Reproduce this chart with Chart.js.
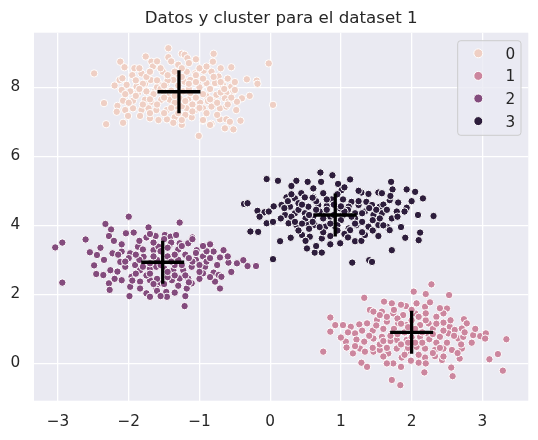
<!DOCTYPE html>
<html>
<head>
<meta charset="utf-8">
<script src="https://cdn.jsdelivr.net/npm/chart.js@4/dist/chart.umd.min.js"></script>
<style>
html,body{margin:0;padding:0;background:#ffffff;}
#wrap{width:538px;height:440px;}
</style>
</head>
<body>
<div id="wrap"><canvas id="c" width="538" height="440"></canvas></div>
<script>
// ---------------- data ----------------
const titleText = 'Datos y cluster para el dataset 1';
const clusterLabels = ['0', '1', '2', '3'];
const xTicks = [-3, -2, -1, 0, 1, 2, 3];
const yTicks = [0, 2, 4, 6, 8];

const cluster0 = [
[-2.49,8.40],[-1.44,9.13],[-1.76,8.89],[-1.44,8.87],[-1.25,8.97],[-1.21,8.94],[-1.17,8.84],[-1.05,8.81],[-0.80,8.97],[-0.81,8.74],
[-2.12,8.74],[-2.06,8.58],[-1.92,8.55],[-1.68,8.74],[-1.66,8.60],[-0.55,8.58],[-0.02,8.69],[-1.82,8.40],[-1.70,8.45],[-1.52,8.45],
[-1.45,8.31],[-1.32,8.40],[-1.18,8.45],[-1.06,8.40],[-0.94,8.48],[-0.83,8.45],[-0.73,8.31],[-0.33,8.23],[-0.19,8.19],[-0.18,8.10],
[-2.13,8.21],[-2.09,8.26],[-2.03,8.07],[-1.89,8.02],[-1.77,8.10],[-1.69,8.21],[-1.58,8.12],[-1.47,8.12],[-1.37,8.21],[-1.21,8.16],
[-1.13,8.21],[-1.02,8.10],[-0.90,8.12],[-0.78,8.12],[-0.67,8.07],[-0.55,8.02],[-0.52,7.88],[-2.10,7.92],[-1.98,7.88],[-1.87,7.83],
[-1.75,7.88],[-1.63,7.88],[-1.51,7.88],[-1.42,7.78],[-1.23,7.88],[-1.13,7.83],[-0.99,7.92],[-0.90,7.74],[-0.76,7.78],[-0.62,7.83],
[-0.50,7.92],[-0.29,7.75],[-0.40,7.68],[-2.35,7.54],[-2.16,7.46],[-2.08,7.61],[-1.94,7.61],[-1.77,7.64],[-1.68,7.58],[-1.54,7.64],
[-1.42,7.64],[-1.28,7.68],[-1.16,7.64],[-0.99,7.55],[-0.88,7.60],[-0.78,7.58],[-0.64,7.68],[-0.59,7.58],[-0.47,7.58],[0.04,7.49],
[-2.17,7.29],[-2.05,7.34],[-1.94,7.39],[-1.82,7.34],[-1.72,7.39],[-1.61,7.34],[-1.46,7.34],[-1.32,7.44],[-1.18,7.39],[-1.06,7.34],
[-0.95,7.39],[-0.83,7.44],[-0.71,7.39],[-0.62,7.44],[-0.48,7.34],[-2.01,7.17],[-2.08,6.97],[-1.84,7.17],[-1.70,7.10],[-1.58,7.05],
[-1.46,7.07],[-1.35,7.13],[-1.25,7.20],[-1.11,7.13],[-0.95,7.03],[-0.83,6.94],[-0.71,7.07],[-0.62,7.07],[-0.57,7.00],[-0.42,7.03],
[-2.32,6.93],[-1.37,6.97],[-1.25,6.91],[-0.85,6.91],[-0.64,6.81],[-0.52,6.78],[-1.01,6.59],
[-1.60,8.00],[-1.40,7.90],[-1.30,8.05],[-1.15,7.95],[-1.00,8.00],[-0.85,7.95],[-1.50,7.70],[-1.35,7.55],[-1.05,7.70],[-0.70,7.85],
[-1.90,7.75],[-1.75,8.30],[-1.25,8.30],[-0.95,8.25],[-1.55,8.55],[-1.30,8.65],[-1.60,7.50],[-1.10,7.50],[-0.90,7.25],[-1.70,7.25],
[-1.20,7.20],[-0.60,8.25],[-1.85,8.55],[-0.70,8.55],[-2.00,7.55],[-1.45,8.20],[-1.00,8.55],[-1.25,7.45],[-0.75,7.20],[-1.80,8.10],
[-1.55,7.95],[-1.35,7.75],[-1.15,8.10],[-0.95,7.80],[-1.45,8.35],[-1.65,7.80],[-1.20,7.60],[-0.80,8.30],[-1.85,7.95],[-1.05,8.35],
[-1.40,7.40],[-0.75,7.55],[-1.70,8.45],[-1.10,7.30],[-1.50,7.25],[-0.65,7.95],[-1.95,8.35],[-0.85,7.65],[-1.25,8.55],[-1.60,8.20],
[-1.35,8.45],[-1.00,7.40],[-0.55,7.70],[-1.80,7.50],[-1.15,8.70],[-0.90,8.60],[-1.50,8.05],[-1.05,8.15],[-1.70,7.65],[-0.70,8.15],
[-1.40,8.75],[-2.05,7.80],[-1.25,7.05],[-0.95,7.05],[-1.60,8.75],[-0.50,8.15],[-1.90,8.20],[-1.30,7.25],[-0.60,7.50],[-2.20,8.05]
];

const cluster1 = [
[2.28,2.29],[2.03,2.08],[2.20,2.01],[2.53,1.98],[1.33,1.90],[1.61,1.79],[1.72,1.74],[1.92,1.66],[2.07,1.74],[2.19,1.64],
[2.26,1.77],[2.50,1.59],[1.41,1.55],[1.46,1.50],[1.58,1.50],[1.74,1.45],[1.88,1.40],[2.05,1.45],[2.19,1.40],[2.35,1.35],
[2.45,1.45],[2.74,1.28],[2.78,1.16],[0.85,1.33],[0.92,1.11],[0.85,0.92],[1.03,1.11],[1.14,1.06],[1.26,1.13],[1.37,1.16],
[1.51,1.26],[1.65,1.21],[1.81,1.16],[1.93,1.11],[2.12,1.11],[2.24,1.16],[2.45,1.18],[2.54,1.06],[2.61,0.97],[2.71,1.01],
[1.07,0.63],[1.08,0.46],[1.20,0.87],[1.22,0.69],[1.33,0.63],[1.46,0.72],[1.58,0.77],[1.72,0.87],[1.79,0.68],[1.93,0.68],
[2.12,0.77],[2.24,0.82],[2.40,0.77],[2.52,0.87],[2.66,0.72],[2.73,0.77],[2.87,0.82],[2.97,0.79],[3.05,0.87],[3.04,0.72],
[3.34,0.70],[1.17,0.29],[1.27,0.43],[1.34,0.34],[1.46,0.34],[1.55,0.39],[1.67,0.29],[1.79,0.43],[1.93,0.34],[2.07,0.48],
[2.19,0.43],[2.33,0.39],[2.45,0.43],[2.57,0.39],[2.71,0.43],[1.29,0.02],[1.37,-0.10],[1.74,0.00],[1.86,0.17],[1.99,0.08],
[2.10,0.02],[2.19,0.17],[2.33,0.21],[2.43,0.10],[2.68,0.14],[3.10,0.12],[3.22,0.27],[0.75,0.34],[1.72,-0.48],[1.84,-0.63],
[2.18,-0.26],[2.58,-0.37],[2.56,-0.12],[3.29,-0.21],
[1.90,0.90],[2.05,1.00],[1.75,1.00],[2.15,0.60],[1.85,0.55],[1.60,1.00],[2.30,1.00],[2.00,1.25],[1.70,0.65],[2.35,0.60],
[1.55,0.55],[2.00,0.75],[2.45,0.95],[1.65,1.35],[2.20,1.25],[1.95,0.45],[1.45,0.95],[2.50,0.60],[1.80,1.30],[2.10,0.25],[1.60,0.20],
[1.80,0.85],[2.15,0.90],[1.95,1.05],[2.25,0.70],[1.70,0.80],[2.05,0.60],[1.85,1.15],[2.35,1.15],[1.60,0.65],[2.40,0.45],
[1.50,1.10],[2.60,0.80],[1.90,0.25],[2.20,1.45],[1.40,0.80],[2.70,0.55],[1.65,0.45],[2.30,0.30],[1.75,1.55],[2.55,1.25],
[1.30,0.95],[2.85,0.60],[1.55,1.40],[2.00,1.55],[1.20,0.50],[2.45,0.20],[1.85,-0.10],[2.90,1.00],[1.10,0.90],[2.10,1.35],
[1.65,0.00],[2.65,0.30],[1.95,0.60],[2.30,0.85],[1.45,0.45],[1.00,0.75],[2.40,1.60],[1.85,1.70],[2.75,0.90],[2.20,0.00]
];

const cluster2 = [
[-3.04,3.36],[-2.94,3.50],[-2.94,2.34],[-2.61,3.59],[-2.55,3.22],[-2.45,3.14],[-2.49,2.84],[-2.46,2.59],[-2.36,2.56],[-2.28,2.32],
[-2.27,2.13],[-2.26,2.70],[-2.33,4.04],[-2.25,3.88],[-2.28,3.69],[-2.21,3.55],[-2.04,3.77],[-1.93,3.79],[-2.00,4.25],[-1.72,3.94],
[-1.75,3.65],[-1.62,3.69],[-1.49,3.72],[-1.41,3.67],[-1.33,3.72],[-1.28,4.08],[-1.10,3.65],[-2.12,2.94],[-2.16,2.66],[-2.23,3.19],
[-2.10,3.24],[-1.98,3.19],[-1.87,3.38],[-1.79,3.09],[-1.65,3.28],[-1.58,3.38],[-1.42,3.43],[-1.28,3.48],[-1.16,3.48],[-1.04,3.28],
[-0.85,3.45],[-0.80,3.24],[-0.66,3.28],[-2.05,2.80],[-1.91,2.85],[-1.84,2.70],[-1.70,2.75],[-1.61,2.80],[-1.37,2.70],[-1.23,2.70],
[-1.11,2.80],[-0.99,2.66],[-0.92,2.80],[-0.71,3.07],[-0.59,2.92],[-0.47,2.90],[-0.38,2.99],[-0.32,2.82],[-0.20,2.82],[-2.10,2.41],
[-1.96,2.51],[-1.84,2.37],[-1.70,2.41],[-1.56,2.32],[-1.39,2.41],[-1.28,2.46],[-1.16,2.46],[-1.11,2.32],[-0.95,2.61],[-0.80,2.63],
[-0.73,2.56],[-0.69,2.51],[-0.78,2.37],[-0.71,2.17],[-1.98,2.22],[-1.84,2.17],[-1.75,2.03],[-1.61,2.17],[-1.47,2.07],[-1.35,2.05],
[-1.18,2.17],[-1.99,1.95],[-1.70,1.93],[-1.46,1.93],[-1.21,1.66],
[-1.60,3.00],[-1.45,3.10],[-1.30,3.00],[-1.20,3.15],[-1.70,2.90],[-1.50,2.75],[-1.35,2.85],[-1.05,3.00],[-0.95,3.10],[-1.85,3.00],
[-2.00,3.05],[-1.55,3.25],[-1.30,3.30],[-1.10,2.95],[-1.75,2.55],[-1.45,2.50],[-1.20,2.55],[-1.90,2.60],[-0.90,2.95],[-1.65,3.50],
[-1.00,2.45],[-2.15,3.15],[-1.40,3.50],[-0.85,3.05],[-1.50,2.30],
[-1.55,2.85],[-1.40,2.95],[-1.25,2.85],[-1.65,3.10],[-1.35,3.15],[-1.80,2.80],[-1.15,3.05],[-1.45,2.65],[-1.00,2.85],[-1.70,2.60],
[-1.25,3.40],[-1.90,3.15],[-1.60,2.45],[-1.05,3.20],[-1.35,2.55],[-2.05,2.95],[-0.90,3.25],[-1.80,3.30],[-1.15,2.35],[-1.50,3.60],
[-2.20,2.45],[-0.75,2.85],[-1.95,2.40],[-1.30,2.25],[-1.60,2.10],[-1.10,3.60],[-2.35,3.00],[-0.60,3.10],[-1.85,3.55],[-1.45,3.35],
[-1.00,2.65],[-0.85,2.50],[-2.10,3.45],[-1.70,3.75],[-1.20,1.95],[-0.55,2.65],[-2.40,3.35],[-1.55,1.95],[-0.95,3.40],[-1.65,2.30]
];

const cluster3 = [
[-0.05,5.34],[0.11,5.29],[-0.37,4.62],[-0.32,4.64],[-0.18,4.42],[-0.08,4.38],[-0.02,4.40],[-0.28,3.82],[-0.17,3.81],[-0.05,4.06],
[0.04,4.10],[0.04,3.02],[0.14,3.54],[0.29,3.64],[0.37,5.29],[0.53,5.26],[0.30,5.14],[0.71,5.53],[0.88,5.45],[0.72,5.26],
[0.96,5.20],[1.13,5.33],[1.01,5.02],[0.61,5.07],[0.44,4.93],[0.23,4.81],[0.35,4.78],[0.49,4.81],[0.61,4.83],[0.75,4.93],
[0.87,4.75],[1.03,4.75],[1.15,4.68],[1.29,4.95],[1.39,4.91],[1.53,4.95],[1.58,4.93],[1.71,5.26],[1.73,5.04],[1.93,5.04],
[2.05,4.97],[2.16,4.78],[0.16,4.59],[0.28,4.54],[0.40,4.64],[0.54,4.54],[0.68,4.59],[0.80,4.56],[0.99,4.49],[1.11,4.54],
[1.25,4.59],[1.36,4.68],[1.44,4.59],[1.55,4.54],[1.69,4.73],[1.81,4.66],[1.93,4.51],[1.79,4.40],[0.21,4.30],[0.35,4.35],
[0.49,4.35],[0.61,4.25],[0.73,4.35],[1.03,4.30],[1.20,4.35],[1.34,4.40],[1.46,4.30],[1.58,4.35],[1.72,4.20],[2.09,4.30],
[2.31,4.27],[0.26,4.06],[0.37,4.01],[0.52,4.06],[0.63,4.01],[0.78,3.96],[0.92,3.96],[1.11,3.91],[1.22,4.01],[1.39,3.96],
[1.53,4.01],[1.65,3.96],[1.69,3.86],[0.45,3.72],[0.56,3.67],[0.73,3.62],[0.85,3.69],[0.99,3.48],[1.13,3.86],[1.20,3.54],
[1.29,3.55],[1.34,3.72],[1.53,3.69],[1.91,3.64],[2.12,3.79],[2.10,3.57],[0.52,3.33],[0.63,3.21],[0.73,3.21],[1.72,3.28],
[1.16,2.92],[1.40,2.99],[1.44,2.94],
[0.70,4.40],[0.85,4.25],[1.00,4.15],[1.20,4.20],[0.60,4.10],[0.90,4.60],[1.10,4.45],[0.50,4.20],[0.75,3.80],[1.30,4.10],
[0.40,4.45],[1.05,3.75],[0.65,4.70],[1.45,4.15],[0.30,4.25],[0.95,4.00],[0.80,4.45],[1.25,4.70],[0.55,3.90],[1.60,4.60],
[0.45,4.05],[1.50,4.45],[0.20,4.50],
[0.90,4.30],[1.05,4.40],[0.75,4.20],[1.15,4.25],[0.65,4.45],[1.30,4.35],[0.85,4.05],[1.00,4.55],[0.55,4.30],[1.40,4.50],
[0.70,3.95],[1.20,4.05],[0.45,4.60],[1.55,4.20],[0.95,3.85],[0.35,4.10],[1.65,4.45],[0.60,4.80],[1.30,3.80],[0.25,4.70],
[1.80,4.25],[0.80,4.75],[1.10,3.65],[0.40,3.85],[1.70,4.85],[0.15,4.20],[1.45,3.85],[0.95,4.90],[0.50,3.55],[1.90,4.40],
[0.05,4.55],[1.25,5.00],[0.85,3.45],[1.60,4.00],[0.30,4.90],[2.00,4.70],[1.05,5.10],[0.65,3.40],[1.85,3.95],[-0.15,4.25]
];

const centroidX = [-1.29, 2.00, -1.52, 0.92];
const centroidY = [7.87, 0.90, 2.93, 4.30];

// ---------------- styling ----------------
const clusterColors = ['#efcfc4', '#cc869e', '#834b7d', '#2d1d3c'];
const FONT = 'DejaVu Sans';
const TEXT = '#262626';
const PLOT_BG = '#eaeaf2';

const fmt = v => (v < 0 ? '\u2212' + Math.abs(v) : String(v));
const clusters = [cluster0, cluster1, cluster2, cluster3];

const bgPlugin = {
  id: 'plotBg',
  beforeDraw(chart) {
    const {ctx, chartArea: a} = chart;
    ctx.save();
    ctx.fillStyle = PLOT_BG;
    ctx.fillRect(a.left, a.top, a.right - a.left, a.bottom - a.top);
    ctx.restore();
  }
};

const legendPlugin = {
  id: 'sbLegend',
  afterDraw(chart) {
    const {ctx, chartArea: a} = chart;
    const w = 63.3, h = 94.6;
    const x0 = a.right - 7.3 - w, y0 = a.top + 8;
    ctx.save();
    ctx.beginPath();
    ctx.roundRect(x0, y0, w, h, 3);
    ctx.fillStyle = 'rgba(234,234,242,0.8)';
    ctx.fill();
    ctx.strokeStyle = '#cccccc';
    ctx.lineWidth = 1;
    ctx.stroke();
    ctx.font = '15.3px "' + FONT + '"';
    ctx.textAlign = 'left';
    ctx.textBaseline = 'alphabetic';
    clusterLabels.forEach((lab, i) => {
      const cy = y0 + 12.6 + i * 22.6;
      ctx.beginPath();
      ctx.arc(x0 + 20.6, cy, 4.5, 0, Math.PI * 2);
      ctx.fillStyle = clusterColors[i];
      ctx.fill();
      ctx.strokeStyle = '#ffffff';
      ctx.lineWidth = 1;
      ctx.stroke();
      ctx.fillStyle = TEXT;
      ctx.fillText(lab, x0 + 47.8, cy + 5.5);
    });
    ctx.restore();
  }
};

const datasets = clusterLabels.map((lab, i) => ({
  label: lab,
  data: clusters[i].map(([x, y]) => ({x, y})),
  backgroundColor: clusterColors[i],
  borderColor: '#ffffff',
  borderWidth: 1,
  pointRadius: 3.7,
  pointHoverRadius: 3.7,
  order: 1
}));
datasets.push({
  label: 'centroides',
  data: centroidX.map((x, i) => ({x, y: centroidY[i]})),
  pointStyle: 'cross',
  pointRadius: 21.5,
  pointHoverRadius: 21.5,
  borderColor: '#000000',
  backgroundColor: '#000000',
  borderWidth: 3.3,
  order: 0
});

new Chart(document.getElementById('c'), {
  type: 'scatter',
  data: {datasets},
  options: {
    responsive: false,
    animation: false,
    events: [],
    layout: {autoPadding: false, padding: {left: 0, right: 9.7, top: 0, bottom: 0}},
    plugins: {
      legend: {display: false},
      tooltip: {enabled: false},
      title: {
        display: true,
        fullSize: false,
        text: titleText,
        color: TEXT,
        font: {family: FONT, size: 16.67, weight: 'normal', lineHeight: 1.2},
        padding: {top: 8.6, bottom: 4.1}
      }
    },
    scales: {
      x: {
        type: 'linear',
        min: -3.34,
        max: 3.65,
        afterBuildTicks: s => { s.ticks = xTicks.map(v => ({value: v})); },
        afterFit: s => { s.height = 39.3; s.paddingLeft = 0; s.paddingRight = 0; },
        grid: {color: '#ffffff', lineWidth: 1.3, drawTicks: false},
        border: {display: false},
        ticks: {padding: 12, color: TEXT, maxRotation: 0, autoSkip: false,
                font: {family: FONT, size: 15.3}, callback: v => fmt(v)}
      },
      y: {
        type: 'linear',
        min: -1.08,
        max: 9.58,
        afterBuildTicks: s => { s.ticks = yTicks.map(v => ({value: v})); },
        afterFit: s => { s.width = 34; s.paddingTop = 0; s.paddingBottom = 0; },
        grid: {color: '#ffffff', lineWidth: 1.3, drawTicks: false},
        border: {display: false},
        ticks: {padding: 13.7, color: TEXT, autoSkip: false,
                font: {family: FONT, size: 15.3}, callback: v => fmt(v)}
      }
    }
  },
  plugins: [bgPlugin, legendPlugin]
});
</script>
</body>
</html>
